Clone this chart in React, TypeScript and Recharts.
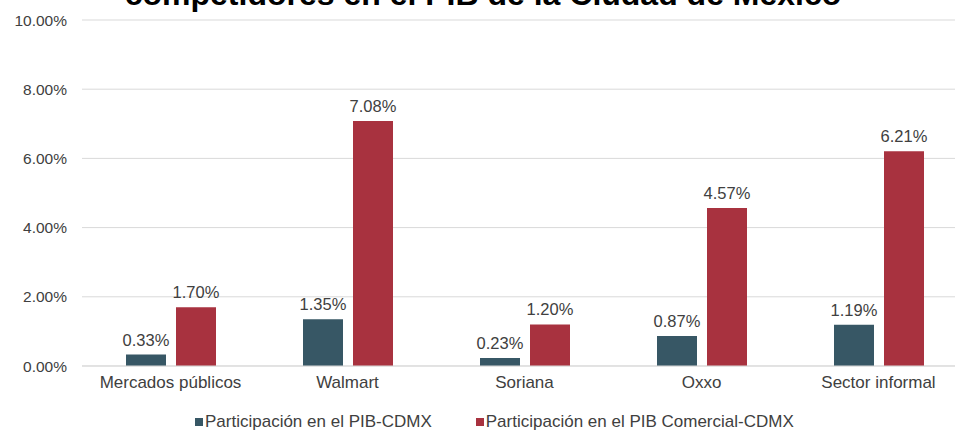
import React from 'react';
import {
  BarChart,
  Bar,
  CartesianGrid,
  XAxis,
  YAxis,
  Legend,
  LabelList,
} from 'recharts';

const categories = ['Mercados públicos', 'Walmart', 'Soriana', 'Oxxo', 'Sector informal'];
const pibCdmx = [0.33, 1.35, 0.23, 0.87, 1.19];
const pibComercial = [1.7, 7.08, 1.2, 4.57, 6.21];
const yTicks = [0, 2, 4, 6, 8, 10];

const series = [
  { key: 'pib', name: 'Participación en el PIB-CDMX', color: '#375765' },
  { key: 'comercial', name: 'Participación en el PIB Comercial-CDMX', color: '#a8323f' },
];

const chartData = categories.map((name, i) => ({
  name,
  pib: pibCdmx[i],
  comercial: pibComercial[i],
}));

const FONT = '"Liberation Sans", Arial, sans-serif';
const TEXT = '#404040';
const pct = (v: number) => `${Number(v).toFixed(2)}%`;

// fixed order legend (recharts sorts items by name otherwise)
function LegendRow() {
  return (
    <div style={{ display: 'flex', alignItems: 'center', fontSize: 17, color: TEXT, lineHeight: '20px' }}>
      {series.map((s, i) => (
        <div key={s.key} style={{ display: 'flex', alignItems: 'center', marginLeft: i === 0 ? 195 : 44 }}>
          <span style={{ width: 8, height: 8, background: s.color, marginRight: 2, display: 'inline-block' }} />
          <span>{s.name}</span>
        </div>
      ))}
    </div>
  );
}

function App() {
  return (
    <div
      style={{
        position: 'fixed',
        left: 0,
        top: 0,
        width: 955,
        height: 430,
        overflow: 'hidden',
        background: '#fff',
        fontFamily: FONT,
      }}
    >
      {/* title runs off the top edge in the original */}
      <div
        style={{
          position: 'absolute',
          top: -22,
          left: 0,
          width: 966,
          textAlign: 'center',
          fontSize: 32,
          lineHeight: '32px',
          fontWeight: 'bold',
          color: '#000',
          whiteSpace: 'nowrap',
        }}
      >
        competidores en el PIB de la Ciudad de México
      </div>
      <BarChart
        width={975}
        height={430}
        data={chartData}
        margin={{ top: 20, right: 8, left: 0, bottom: 14 }}
        barSize={40}
        barGap={10}
        style={{ fontFamily: FONT }}
      >
        <CartesianGrid vertical={false} stroke="#d9d9d9" />
        <XAxis
          dataKey="name"
          height={30}
          tickLine={false}
          tickSize={0}
          tickMargin={10}
          axisLine={{ stroke: '#d9d9d9' }}
          tick={{ fontSize: 17, fill: TEXT }}
          interval={0}
        />
        <YAxis
          width={82}
          domain={[0, 10]}
          ticks={yTicks}
          tickFormatter={pct}
          axisLine={false}
          tickLine={false}
          tickSize={0}
          tickMargin={15}
          tick={{ fontSize: 15.5, fill: TEXT }}
        />
        <Legend content={<LegendRow />} wrapperStyle={{ top: 412, left: 0, width: 955 }} />
        {series.map((s) => (
          <Bar key={s.key} dataKey={s.key} name={s.name} fill={s.color} isAnimationActive={false}>
            <LabelList dataKey={s.key} position="top" offset={9} formatter={pct} fill={TEXT} fontSize={16.5} />
          </Bar>
        ))}
      </BarChart>
    </div>
  );
}

export default App;
